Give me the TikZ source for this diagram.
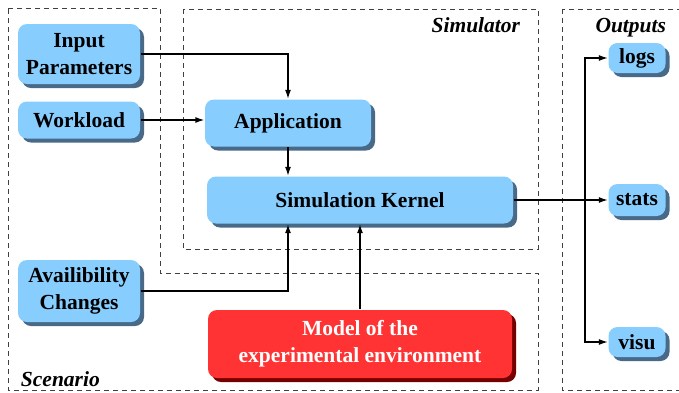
\documentclass[tikz,border=0pt]{standalone}
\usepackage{fontspec}
\setmainfont{Liberation Serif}
\usetikzlibrary{shadows,arrows.meta}

\definecolor{boxblue}{RGB}{135,206,255}
\definecolor{blueshade}{RGB}{72,106,136}
\definecolor{boxred}{RGB}{255,51,51}
\definecolor{redshade}{RGB}{118,0,0}

\tikzset{
  >={Latex[length=9pt,width=6pt]},
  part/.style={rounded corners=9pt, inner sep=0pt, align=center,
    font=\fontsize{21.5}{27}\selectfont\bfseries},
  bluepart/.style={part, fill=boxblue,
    drop shadow={shadow xshift=4pt, shadow yshift=-4pt, fill=blueshade, opacity=1}},
  redpart/.style={part, fill=boxred, text=white,
    drop shadow={shadow xshift=4pt, shadow yshift=-4pt, fill=redshade, opacity=1}},
  region/.style={draw, dash pattern=on 5pt off 4pt, line width=0.9pt, black!75},
  regionname/.style={font=\fontsize{21.5}{27}\selectfont\bfseries\itshape}
}

\begin{document}
\begin{tikzpicture}[x=1pt, y=-1pt, line width=1.3pt]
    \useasboundingbox (0,0) rectangle (679,392);
    \clip (0,0) rectangle (679,392);
    % dashed areas
    \draw[region] (8,8) -- (160,8) -- (160,273) -- (538,273) -- (538,390) -- (8,390) -- cycle;
    \draw[region] (183,9) rectangle (538,249);
    \draw[region] (562,9) rectangle (700,390);
    \node[regionname, anchor=base east] (simname) at (524,32) {Simulator};
    \node[regionname, anchor=base east] (outname) at (670,32) {Outputs};
    \node[regionname, anchor=base west] (scename) at (17,386) {Scenario};

    % boxes
    \node[bluepart, minimum width=122pt, minimum height=60pt] (inparam) at (79,54) {Input\\Parameters};
    \node[bluepart, minimum width=122pt, minimum height=37pt] (workload) at (79,120) {Workload};
    \node[bluepart, minimum width=166pt, minimum height=47pt] (app) at (288,123) {Application};
    \node[bluepart, minimum width=306pt, minimum height=47pt] (kernel) at (360,200) {Simulation Kernel};
    \node[bluepart, minimum width=122pt, minimum height=62pt] (avail) at (79,291) {Availibility\\Changes};
    \node[redpart, minimum width=304pt, minimum height=68pt] (model) at (360,344) {Model of the\\experimental environment};
    \node[bluepart, minimum width=57pt, minimum height=30pt] (logs) at (637,58) {logs};
    \node[bluepart, minimum width=57pt, minimum height=32pt] (stats) at (637,200) {stats};
    \node[bluepart, minimum width=57pt, minimum height=30pt] (visu) at (637,342) {visu};
    \coordinate (fork) at (585,200);

    % links
    \path[draw, ->] (inparam.east) -| (app.north);
    \path[draw, ->] (workload.east) -- (workload.east -| app.west);
    \path[draw, ->] (app.south) -- (app.south |- kernel.north);
    \path[draw, ->] (avail.east) -| (app.south |- kernel.south);
    \path[draw, ->] (model.north) -- (kernel.south);
    \path[draw, ->] (kernel.east) -- (stats.west);
    \path[draw, ->] (fork) |- (logs.west);
    \path[draw, ->] (fork) |- (visu.west);
  \end{tikzpicture}
\end{document}
